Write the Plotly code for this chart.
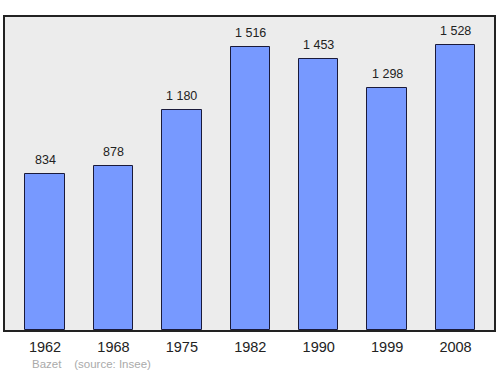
import plotly.graph_objects as go

years = ["1962", "1968", "1975", "1982", "1990", "1999", "2008"]
population = [834, 878, 1180, 1516, 1453, 1298, 1528]
commune = "Bazet"
source = "(source: Insee)"

def fmt(v):
    return f"{v:,}".replace(",", " ")

x_idx = list(range(len(years)))

fig = go.Figure()
fig.add_trace(go.Bar(
    x=x_idx, y=population, width=0.575,
    marker=dict(color="#7799ff", line=dict(color="#1a1a3a", width=1)),
    hoverinfo="skip",
))

for xi, v in zip(x_idx, population):
    fig.add_annotation(x=xi, y=v, text=fmt(v), showarrow=False,
                       yanchor="middle", yshift=14,
                       font=dict(family="Liberation Sans, Arial, sans-serif", size=12.5, color="#222222"))

fig.add_annotation(xref="paper", yref="paper", x=(30 - 5) / 489, y=0,
                   xanchor="left", yanchor="middle", yshift=-34,
                   text=f"{commune}&nbsp;&nbsp;&nbsp;&nbsp;{source}", showarrow=False,
                   font=dict(family="Liberation Sans, Arial, sans-serif", size=11.5, color="#aaaaaa"))

fig.update_layout(
    width=500, height=374,
    margin=dict(l=5, r=6, t=17, b=44),
    paper_bgcolor="white", plot_bgcolor="#ececec",
    showlegend=False,
    bargap=0,
    xaxis=dict(
        tickmode="array", tickvals=x_idx, ticktext=years,
        range=[-0.585, 6.562],
        showgrid=False, zeroline=False,
        showline=True, mirror=True, linecolor="#222222", linewidth=1.5,
        ticks="outside", ticklen=3, tickcolor="rgba(0,0,0,0)",
        tickfont=dict(family="Liberation Sans, Arial, sans-serif", size=14.5, color="#222222"),
        fixedrange=True,
    ),
    yaxis=dict(
        range=[0, 1677], showgrid=False, zeroline=False,
        showticklabels=False, ticks="",
        showline=True, mirror=True, linecolor="#222222", linewidth=1.5,
        fixedrange=True,
    ),
)

fig.write_html("out.html", config={"displayModeBar": False})
